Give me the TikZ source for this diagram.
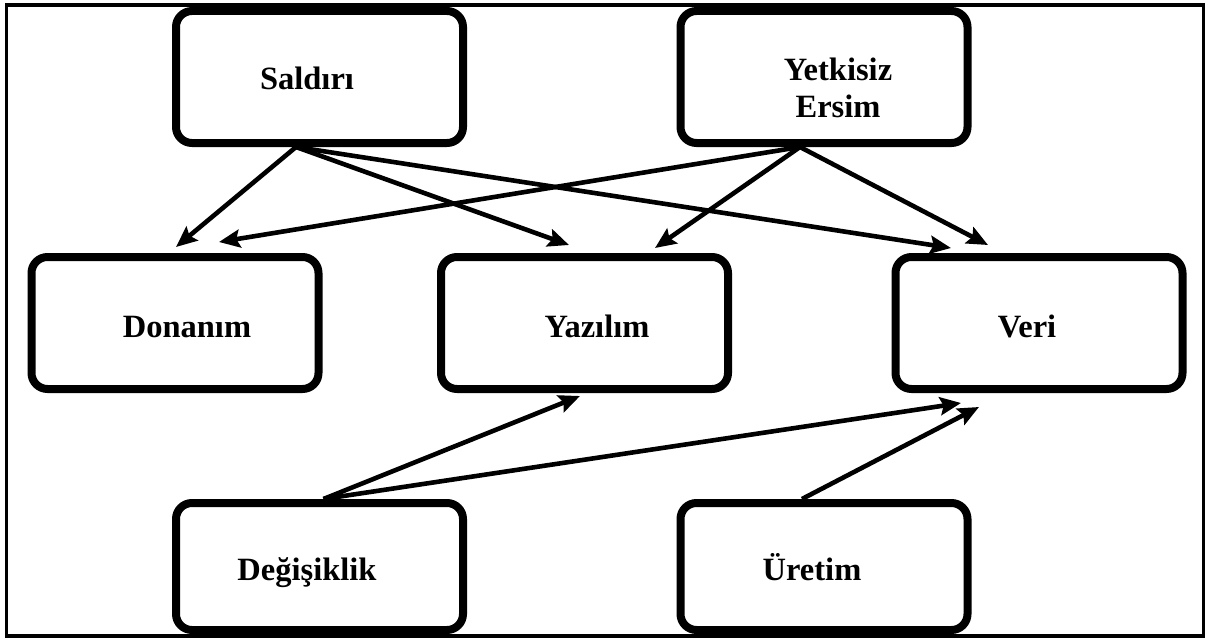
\documentclass[tikz,border=0pt]{standalone}
\usepackage{fontspec}
\setmainfont{Liberation Serif}
\usetikzlibrary{arrows.meta,calc}
\begin{document}
\begin{tikzpicture}[x=1pt,y=-1pt,
  box/.style={draw=black, line width=8pt, rounded corners=16pt, fill=white,
    minimum width=287pt, minimum height=132pt, inner sep=0pt},
  lowbox/.style={box, minimum height=127pt},
  one/.style={font=\fontsize{32.5}{37}\selectfont\bfseries, inner sep=0pt,
    text height=22pt, text depth=0pt},
  multi/.style={font=\fontsize{32.5}{37}\selectfont\bfseries, inner sep=0pt, align=center},
  arr/.style={line width=4.6pt, -{Stealth[length=21pt,width=18pt,inset=3.5pt]}},
  frame/.style={draw=black, line width=3.5pt}]
\useasboundingbox (0,0) rectangle (1216,642);
\draw[frame] (6.5,5) rectangle (1203.5,636);

\node[box, label={[one, name=salt, xshift=-12.5pt, yshift=-1pt]center:Saldırı}] (sal) at (319.5,77) {};
\node[box, label={[multi, name=yett, xshift=14pt, yshift=-10.6pt]center:{Yetkisiz\\Ersim}}] (yet) at (824,77) {};
\node[box, label={[one, name=dont, xshift=12pt, yshift=-3pt]center:Donanım}] (don) at (175,323) {};
\node[box, label={[one, name=yazt, xshift=12.5pt, yshift=-3pt]center:Yazılım}] (yaz) at (584.5,323) {};
\node[box, label={[one, name=vert, xshift=-12pt, yshift=-3pt]center:Veri}] (ver) at (1039,323) {};
\node[lowbox, label={[one, name=degt, xshift=-12.5pt, yshift=-2.5pt]center:Değişiklik}] (deg) at (319.5,566.5) {};
\node[lowbox, label={[one, name=uret, xshift=-12pt, yshift=-2.5pt]center:Üretim}] (ure) at (824,566.5) {};

\coordinate (s0) at ($(sal.south)+(-23.5,0)$);
\coordinate (y0) at ($(yet.south)+(-24,0)$);
\coordinate (d0) at ($(deg.north)+(4,0)$);
\coordinate (u0) at ($(ure.north)+(-22,0)$);

\draw[arr] (s0) -- ($(don.north)+(1,-6)$);
\draw[arr] (y0) -- ($(don.north)+(44,-11)$);
\draw[arr] (s0) -- ($(yaz.north)+(-15.5,-8)$);
\draw[arr] (y0) -- ($(yaz.north)+(70.5,-5)$);
\draw[arr] (s0) -- ($(ver.north)+(-88,-5)$);
\draw[arr] (y0) -- ($(ver.north)+(-51,-8)$);
\draw[arr] (d0) -- ($(yaz.south)+(-4.5,3)$);
\draw[arr] (d0) -- ($(ver.south)+(-78,10)$);
\draw[arr] (u0) -- ($(ver.south)+(-60,14)$);
\end{tikzpicture}
\end{document}
